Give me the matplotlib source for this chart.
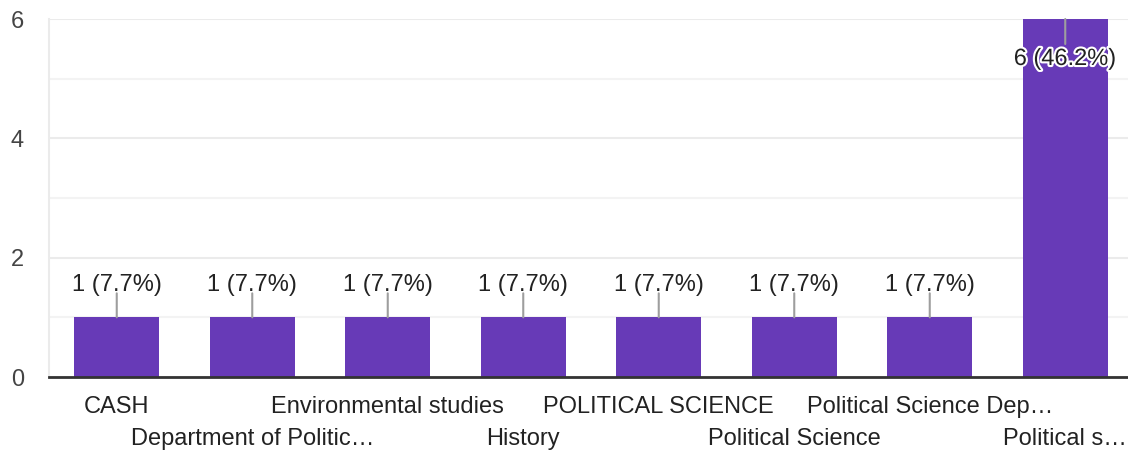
import matplotlib.pyplot as plt
import matplotlib.patheffects as pe
import numpy as np

# Data
categories = [
    "CASH",
    "Department of Politic\u2026",
    "Environmental studies",
    "History",
    "POLITICAL SCIENCE",
    "Political Science",
    "Political Science Dep\u2026",
    "Political s\u2026",
]
counts = [1, 1, 1, 1, 1, 1, 1, 6]
percents = [7.7, 7.7, 7.7, 7.7, 7.7, 7.7, 7.7, 46.2]
y_ticks = [0, 2, 4, 6]

plt.rcParams["font.family"] = ["Liberation Sans", "DejaVu Sans"]
fs = 17

fig = plt.figure(figsize=(11.28, 4.53), dpi=100)
ax = fig.add_axes([49 / 1128, 76 / 453, 1084 / 1128, 358 / 453])

x = np.arange(len(categories))
ax.bar(x, counts, width=0.63, color="#673ab7", zorder=2)

ax.set_xlim(-0.5, len(categories) - 0.5)
ax.set_ylim(0, 6)

# Gridlines
ax.set_yticks(y_ticks)
ax.set_yticks([1, 3, 5], minor=True)
ax.grid(axis="y", which="major", color="#ebebeb", lw=1.5, zorder=0)
ax.grid(axis="y", which="minor", color="#f3f3f3", lw=1.5, zorder=0)
ax.tick_params(axis="y", which="both", length=0, pad=18, labelsize=fs,
               labelcolor="#444444")

for s in ["top", "right"]:
    ax.spines[s].set_visible(False)
ax.spines["left"].set_color("#ebebeb")
ax.spines["left"].set_linewidth(1.5)
ax.spines["bottom"].set_color("#333333")
ax.spines["bottom"].set_linewidth(2)
ax.spines["bottom"].set_zorder(3)

# Staggered x labels
ax.set_xticks(x[::2], categories[::2])
ax.set_xticks(x[1::2], categories[1::2], minor=True)
ax.tick_params(axis="x", which="major", length=0, pad=14, labelsize=fs,
               labelcolor="#222222")
ax.tick_params(axis="x", which="minor", length=0, pad=36.5, labelsize=fs,
               labelcolor="#222222")

# Value labels with leader lines
for i, (c, p) in enumerate(zip(counts, percents)):
    label = f"{c} ({p}%)"
    if c < max(counts):
        ax.annotate("", xy=(i, c), xytext=(0, 24), textcoords="offset pixels",
                    arrowprops=dict(arrowstyle="-", color="#9e9e9e", lw=1.5,
                                    shrinkA=0, shrinkB=0), zorder=3)
        ax.annotate(label, xy=(i, c), xytext=(0, 32), textcoords="offset pixels",
                    ha="center", va="center", fontsize=fs, color="#222222",
                    zorder=4)
    else:
        ax.annotate("", xy=(i, c), xytext=(0, -25), textcoords="offset pixels",
                    arrowprops=dict(arrowstyle="-", color="#9e9e9e", lw=1.5,
                                    shrinkA=0, shrinkB=0), zorder=3)
        ax.annotate(label, xy=(i, c), xytext=(0, -40), textcoords="offset pixels",
                    ha="center", va="center", fontsize=fs, color="#222222",
                    zorder=4, annotation_clip=False,
                    path_effects=[pe.withStroke(linewidth=3, foreground="white")])

fig.savefig("out.png", dpi=100)
